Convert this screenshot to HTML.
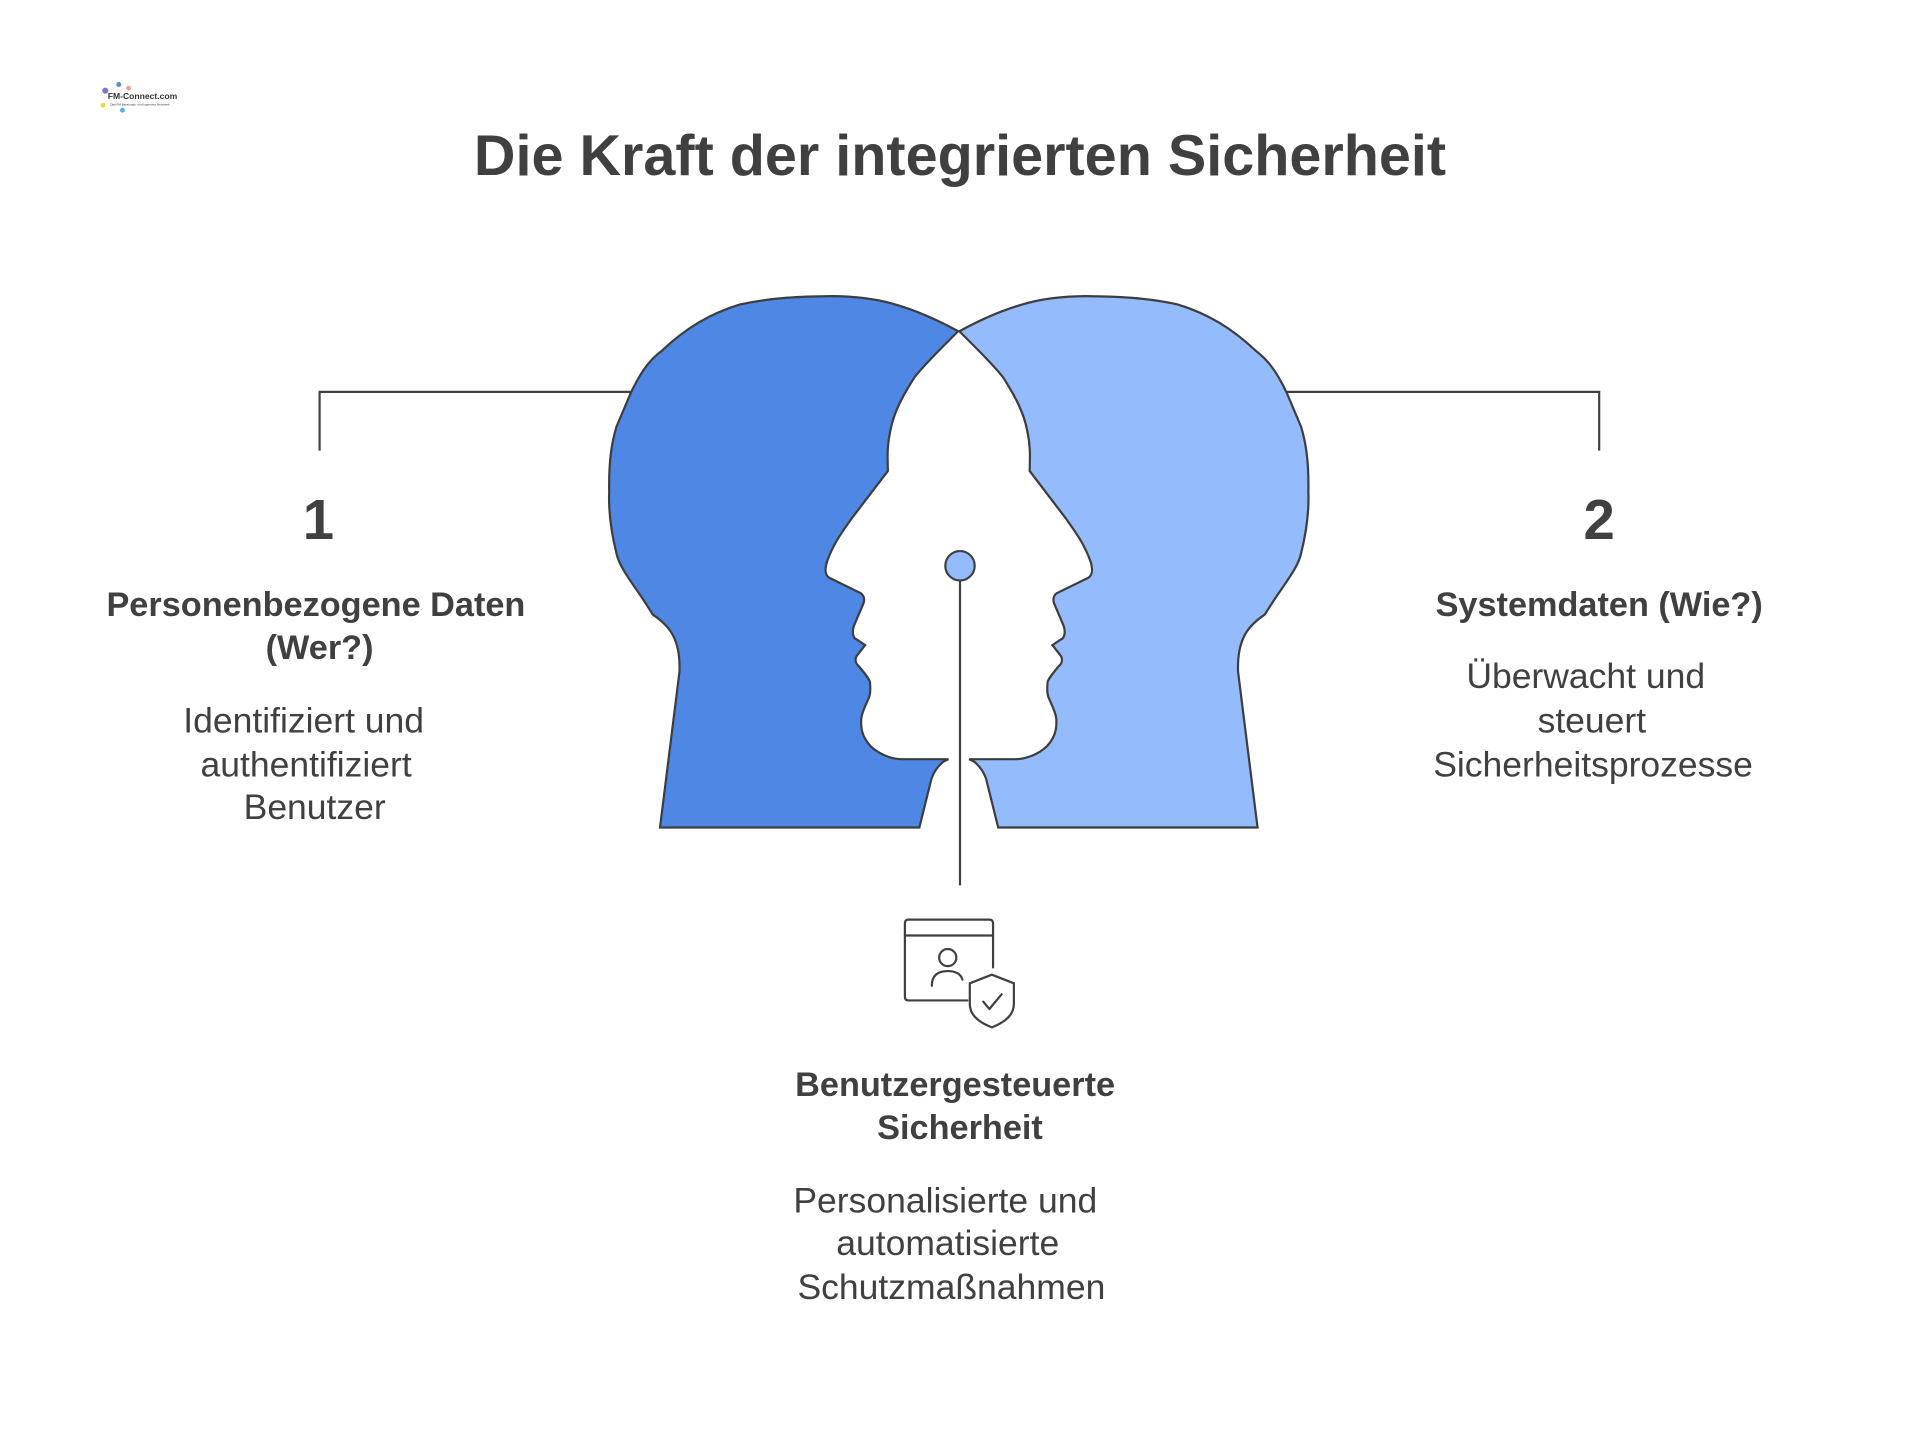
<!DOCTYPE html>
<html><head><meta charset="utf-8"><style>html,body{margin:0;padding:0;background:#fff}svg{display:block}</style></head>
<body>
<svg width="1920" height="1454" viewBox="0 0 1568 1187.4" xmlns="http://www.w3.org/2000/svg" font-family="Liberation Sans, sans-serif">
<rect width="1568" height="1188" fill="#fff"/>
<!-- logo -->
<g fill="#333"><circle cx="86" cy="74" r="2.5" fill="#8a6fc8"/><circle cx="97" cy="69" r="2" fill="#5a8ad8"/><circle cx="84" cy="86" r="2" fill="#e8d84a"/><circle cx="100" cy="90" r="2" fill="#5ab0e8"/><circle cx="105" cy="72" r="2" fill="#e8a0a0"/><text x="88" y="81" font-weight="bold" font-size="7">FM-Connect.com</text><text x="90" y="86" font-size="2.5">Das FM Beratungs- und Ingenieur Netzwerk</text></g>
<text x="784" y="143" text-anchor="middle" font-size="47" font-weight="bold" fill="#404040">Die Kraft der integrierten Sicherheit</text>
<g fill="none" stroke="#404040" stroke-width="1.8">
<polyline points="515,320 261,320 261,368"/>
<polyline points="1050,320 1306,320 1306,368"/>
</g>
<path d="M539,675.8 L554.9,548.6 C556,520 545,510 533,501.8 C520,480 506,465 503.4,451.7 C498,430 497,415 497.5,401.8 C497,375 500,360 503.4,348.6 L515.3,320.5 C525,300 533,292 541,286 C560,268 580,256 604.3,248.6 C630,243 655,242 679.6,241.8 C700,242 716,244 731,248.6 C750,254 767,262 782.5,270.5 C765,288 755,298 746.9,308 C738,322 730,336 727.1,351.8 C724,366 725,375 725.1,384.6 L695.4,423.6 C685,438 680,446 675.6,458 C673,466 674,470 677.6,472 L703.3,484.6 C706,487 706,490 705.3,492.4 L697.4,511 C695,518 698,522 699.4,522 L706.5,526.8 L699.4,536 C698,539 699,542 701.3,544 C708,552 711,556 710.5,558 C711,563 711,567 709.3,570.5 C705,580 703,585 703.3,589.3 C703,598 706,604 711.2,609.6 C718,616 728,620 737,620 L774.6,620 C772,621 770,622 768.6,623.6 C764,628 762,632 760.7,636 L750.8,675.8 Z" fill="#4E88E4" stroke="#3d3d3d" stroke-width="1.8"/>
<g transform="translate(1566,0) scale(-1,1)">
<path d="M539,675.8 L554.9,548.6 C556,520 545,510 533,501.8 C520,480 506,465 503.4,451.7 C498,430 497,415 497.5,401.8 C497,375 500,360 503.4,348.6 L515.3,320.5 C525,300 533,292 541,286 C560,268 580,256 604.3,248.6 C630,243 655,242 679.6,241.8 C700,242 716,244 731,248.6 C750,254 767,262 782.5,270.5 C765,288 755,298 746.9,308 C738,322 730,336 727.1,351.8 C724,366 725,375 725.1,384.6 L695.4,423.6 C685,438 680,446 675.6,458 C673,466 674,470 677.6,472 L703.3,484.6 C706,487 706,490 705.3,492.4 L697.4,511 C695,518 698,522 699.4,522 L706.5,526.8 L699.4,536 C698,539 699,542 701.3,544 C708,552 711,556 710.5,558 C711,563 711,567 709.3,570.5 C705,580 703,585 703.3,589.3 C703,598 706,604 711.2,609.6 C718,616 728,620 737,620 L774.6,620 C772,621 770,622 768.6,623.6 C764,628 762,632 760.7,636 L750.8,675.8 Z" fill="#94BBFB" stroke="#3d3d3d" stroke-width="1.8"/>
</g>
<line x1="784" y1="474" x2="784" y2="723" stroke="#404040" stroke-width="1.8"/>
<circle cx="784" cy="462" r="12" fill="#94BBFB" stroke="#404040" stroke-width="1.8"/>
<!-- icon -->
<g fill="none" stroke="#404040" stroke-width="1.8" stroke-linecap="round" stroke-linejoin="round">
<path d="M790,817 L742,817 Q739,817 739,814 L739,754 Q739,751 742,751 L808,751 Q811,751 811,754 L811,790"/>
<line x1="739" y1="764" x2="811" y2="764"/>
<circle cx="774" cy="782" r="7"/>
<path d="M761,805 Q761,793 774,793 Q784,793 786,800"/>
<path d="M810,796 L828,803 L828,820 Q828,832 810,839 Q792,832 792,820 L792,803 Z"/>
<path d="M803,818 L808,824 L818,812"/>
</g>
<g fill="#404040" text-anchor="middle">
<text x="260" y="440" font-size="46" font-weight="bold">1</text>
<text x="1306" y="440" font-size="46" font-weight="bold">2</text>
<g font-size="28" font-weight="bold">
<text x="258" y="503">Personenbezogene Daten</text>
<text x="261" y="538">(Wer?)</text>
<text x="1306" y="503">Systemdaten (Wie?)</text>
<text x="780" y="895">Benutzergesteuerte</text>
<text x="784" y="930">Sicherheit</text>
</g>
<g font-size="29">
<text x="248" y="598">Identifiziert und</text>
<text x="250" y="634">authentifiziert</text>
<text x="257" y="669">Benutzer</text>
<text x="1295" y="562">Überwacht und</text>
<text x="1300" y="598">steuert</text>
<text x="1301" y="634">Sicherheitsprozesse</text>
<text x="772" y="990">Personalisierte und</text>
<text x="774" y="1025">automatisierte</text>
<text x="777" y="1061">Schutzmaßnahmen</text>
</g>
</g>
</svg>
</body></html>
